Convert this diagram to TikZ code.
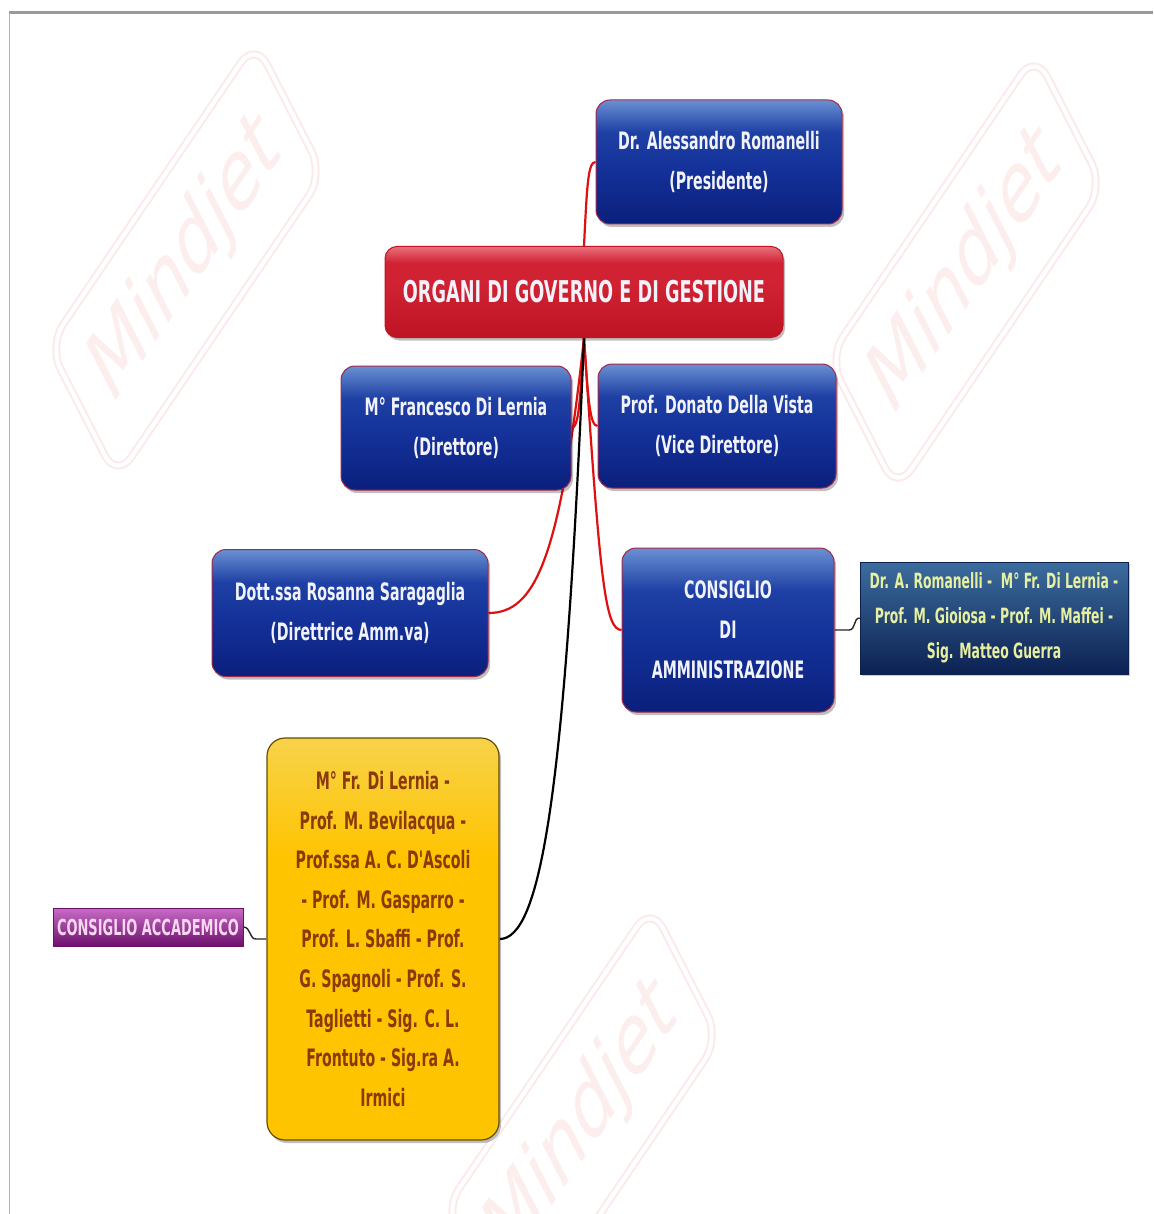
\documentclass[tikz,border=0pt]{standalone}
\usepackage{fontspec}
\newfontfamily\bx{DejaVu Sans}[FakeStretch=0.59]
\newfontfamily\wmf{DejaVu Sans}
\usetikzlibrary{shadows}
\pgfdeclarelayer{wmlayer}
\pgfdeclarelayer{bg}
\pgfsetlayers{wmlayer,bg,main}

\definecolor{bbot}{HTML}{0B1F7C}
\definecolor{bmid}{HTML}{14329A}
\definecolor{bmid2}{HTML}{1E40A4}
\definecolor{btop}{HTML}{6A90D2}
\definecolor{rbot}{HTML}{BE1424}
\definecolor{rmid}{HTML}{D02232}
\definecolor{rtop}{HTML}{E8707C}
\definecolor{ybot}{HTML}{FFC400}
\definecolor{ytop}{HTML}{F7D24A}
\definecolor{mbot}{HTML}{0C2152}
\definecolor{mtop}{HTML}{3C6C9E}
\definecolor{pbot}{HTML}{6C106C}
\definecolor{ptop}{HTML}{C86CC8}
\definecolor{boxborder}{HTML}{A0284C}
\definecolor{btext}{HTML}{F2F2FA}
\definecolor{ytext}{HTML}{8A3A08}
\definecolor{mtext}{HTML}{E6F0A0}
\definecolor{ptext}{HTML}{F8D8F0}
\definecolor{redline}{HTML}{E01010}
\definecolor{wmc}{HTML}{FCEAEA}
\definecolor{wmt}{HTML}{FDEEEE}

\pgfdeclareverticalshading{blueglass}{100bp}{color(0bp)=(bbot); color(25bp)=(bbot); color(48bp)=(bmid); color(62bp)=(bmid2); color(75bp)=(btop); color(100bp)=(btop)}
\pgfdeclareverticalshading{redglass}{100bp}{color(0bp)=(rbot); color(25bp)=(rbot); color(55bp)=(rmid); color(66bp)=(rmid); color(75bp)=(rtop); color(100bp)=(rtop)}
\pgfdeclareverticalshading{yellowglass}{100bp}{color(0bp)=(ybot); color(25bp)=(ybot); color(60bp)=(ybot); color(75bp)=(ytop); color(100bp)=(ytop)}
\pgfdeclareverticalshading{memglass}{100bp}{color(0bp)=(mbot); color(25bp)=(mbot); color(75bp)=(mtop); color(100bp)=(mtop)}
\pgfdeclareverticalshading{purpleglass}{100bp}{color(0bp)=(pbot); color(25bp)=(pbot); color(75bp)=(ptop); color(100bp)=(ptop)}

\tikzset{
  shadowed/.style={drop shadow={shadow xshift=2pt, shadow yshift=-3pt, opacity=0.25, fill=black}},
  bluebox/.style={shadowed, rounded corners=14pt, shading=blueglass, draw=boxborder, line width=1pt,
    text=btext, font=\bx\bfseries\fontsize{24}{40}\selectfont, align=center, inner sep=0pt},
  rootbox/.style={shadowed, rounded corners=12pt, shading=redglass, draw=rbot, line width=1pt,
    text=btext, font=\bx\bfseries\fontsize{30}{36}\selectfont, align=center, inner sep=0pt},
  yellowbox/.style={shadowed, rounded corners=18pt, shading=yellowglass, draw=black!60!ybot, line width=1.2pt,
    text=ytext, font=\bx\bfseries\fontsize{24}{39.6}\selectfont, align=center, inner sep=0pt},
  membox/.style={drop shadow={shadow xshift=2pt, shadow yshift=-2pt, opacity=0.2, fill=black},
    shading=memglass, draw=mbot, line width=0.6pt,
    text=mtext, font=\bx\bfseries\fontsize{21}{35}\selectfont, align=center, inner sep=0pt},
  purplebox/.style={shading=purpleglass, draw=pbot, line width=0.6pt,
    text=ptext, font=\bx\bfseries\fontsize{22}{26}\selectfont, align=center, inner sep=0pt},
  redl/.style={draw=redline, line width=2.2pt},
  blackl/.style={draw=black, line width=2.2pt},
  thinl/.style={draw=black!85, line width=1.4pt},
  wm/.style={transform shape, rotate=41, draw=wmc, line width=2pt, double=white, double distance=4pt,
    rounded corners=26pt, minimum width=464pt, minimum height=176pt,
    text=wmt, font=\wmf\fontsize{104}{104}\selectfont, inner sep=0pt}
}

\begin{document}
\begin{tikzpicture}[x=1pt,y=-1pt]
\useasboundingbox (0,0) rectangle (1153,1214);

% background, frame lines and watermarks
\begin{pgfonlayer}{wmlayer}
\fill[white] (0,0) rectangle (1153,1214);
\begin{scope}
\clip (0,0) rectangle (1153,1214);
\begin{scope}[shift={(186,260)}, xscale=0.59]
\node[wm] (wm1) at (0,0) {Mindjet};
\end{scope}
\begin{scope}[shift={(966,272)}, xscale=0.59]
\node[wm] (wm2) at (0,0) {Mindjet};
\end{scope}
\begin{scope}[shift={(582,1124)}, xscale=0.59]
\node[wm] (wm3) at (0,0) {Mindjet};
\end{scope}
\end{scope}
\draw[draw=black!40, line width=3pt] (9,13) -- (1153,13);
\draw[draw=black!30, line width=0.8pt] (9,13) -- (9,1214);
\end{pgfonlayer}

% nodes
\node[rootbox, minimum width=398pt, minimum height=91pt] (root) at (584,292) {ORGANI DI GOVERNO E DI GESTIONE};
\node[bluebox, minimum width=246pt, minimum height=124pt] (pres) at (719,162) {Dr. Alessandro Romanelli\\(Presidente)};
\node[bluebox, minimum width=230pt, minimum height=124pt] (dir) at (456,428) {M° Francesco Di Lernia\\(Direttore)};
\node[bluebox, minimum width=238pt, minimum height=124pt] (vice) at (717,426) {Prof. Donato Della Vista\\(Vice Direttore)};
\node[bluebox, minimum width=276pt, minimum height=127pt] (sara) at (350,613) {Dott.ssa Rosanna Saragaglia\\(Direttrice Amm.va)};
\node[bluebox, minimum width=212pt, minimum height=164pt] (cda) at (728,630) {CONSIGLIO\\DI\\AMMINISTRAZIONE};
\node[membox, minimum width=268pt, minimum height=112pt] (mem) at (994,618) {Dr. A. Romanelli -~~M° Fr. Di Lernia -\\Prof. M. Gioiosa - Prof. M. Maffei -\\Sig. Matteo Guerra};
\node[yellowbox, minimum width=232pt, minimum height=402pt] (yel) at (383,939) {M° Fr. Di Lernia -\\Prof. M. Bevilacqua -\\Prof.ssa A. C. D'Ascoli\\- Prof. M. Gasparro -\\Prof. L. Sbaffi - Prof.\\G. Spagnoli - Prof. S.\\Taglietti - Sig. C. L.\\Frontuto - Sig.ra A.\\Irmici};
\node[purplebox, minimum width=190pt, minimum height=38pt] (acc) at (148,927) {CONSIGLIO ACCADEMICO};

% connectors
\begin{pgfonlayer}{bg}
\draw[redl] (root.north) .. controls (587,185) and (588,162) .. (pres.west);
\draw[redl] (root.south) .. controls (580,400) and (579,428) .. (dir.east);
\draw[redl] (root.south) .. controls (588,400) and (590,426) .. (vice.west);
\draw[redl] (root.south) .. controls (560,560) and (535,613) .. (sara.east);
\draw[redl] (root.south) .. controls (600,580) and (605,630) .. (cda.west);
\draw[blackl] (root.south) .. controls (565,800) and (540,939) .. (yel.east);
\draw[thinl] (cda.east) -- (849,630) .. controls (856,630) and (853,618) .. (mem.west);
\draw[thinl] (yel.west) -- (256,939) .. controls (249,939) and (251,927) .. (acc.east);
\end{pgfonlayer}
\end{tikzpicture}
\end{document}
